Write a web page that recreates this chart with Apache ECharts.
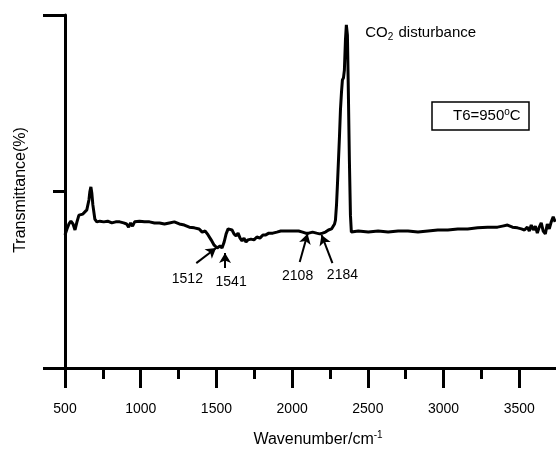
<!DOCTYPE html>
<html>
<head>
<meta charset="utf-8">
<script src="https://cdn.jsdelivr.net/npm/echarts@6/dist/echarts.min.js"></script>
<style>
html,body{margin:0;padding:0;background:#fff;overflow:hidden;width:556px;height:452px;}
#chart{width:598px;height:452px;}
</style>
</head>
<body>
<div id="chart"></div>
<script>
// Wavenumber (cm^-1)
var wavenumbers = [500,513,526,539,553,566,579,592,605,618,631,644,658,664,671,677,684,697,710,730,756,782,809,835,861,887,907,920,933,946,960,992,1025,1058,1091,1124,1157,1189,1222,1255,1288,1321,1354,1386,1406,1426,1445,1465,1485,1505,1524,1537,1551,1564,1577,1590,1603,1616,1630,1643,1656,1669,1682,1695,1708,1728,1748,1767,1787,1807,1826,1846,1872,1899,1925,1951,1977,2010,2043,2069,2089,2109,2135,2161,2181,2201,2220,2240,2260,2273,2280,2286,2293,2299,2306,2313,2319,2326,2332,2339,2345,2352,2358,2365,2371,2378,2385,2391,2404,2437,2503,2568,2634,2700,2765,2831,2897,2962,3028,3094,3159,3225,3291,3356,3389,3422,3455,3488,3514,3534,3553,3566,3579,3593,3606,3619,3632,3645,3658,3672,3685,3698,3711,3724,3737];
// Transmittance (arbitrary units, 0-100)
var transmittance = [37.7,39.4,40.8,41.6,40.8,39.1,41.4,43.3,43.1,43.6,43.9,44.8,47.6,49.9,51.3,49.6,46.2,42.2,41.4,41.6,41.4,41.6,41.1,41.4,41.4,41.1,40.8,39.9,41.1,40.2,41.4,41.6,41.4,41.4,41.1,41.1,40.8,41.1,41.4,40.8,40.5,39.9,39.7,39.4,38.5,38.8,37.7,36.3,34.8,34.0,34.6,34.0,35.7,38.0,39.4,39.7,39.1,38.0,37.4,38.2,36.8,36.0,36.8,35.7,36.3,36.5,36.3,37.1,36.8,37.7,37.7,38.2,38.2,38.5,38.8,38.8,38.8,38.8,38.8,38.5,38.2,38.2,38.5,38.2,38.0,38.2,38.5,39.1,39.4,39.9,40.8,41.9,46.2,51.8,58.9,66.0,73.1,78.2,81.6,82.2,84.4,92.9,97.2,94.3,78.8,58.9,43.3,38.5,38.5,38.8,38.5,38.8,38.5,38.8,38.8,38.5,38.8,39.1,39.1,39.4,39.4,39.7,39.9,39.9,40.2,40.5,39.9,39.7,39.4,39.1,39.9,38.8,40.5,39.1,40.2,38.2,39.9,41.1,38.8,38.0,40.8,39.4,41.4,42.8,41.4];
// X tick labels
var xTicks = [500,1000,1500,2000,2500,3000,3500];
// Peak annotations: label, label position [x,y], arrow start [x,y], arrow tip [x,y]
var peakLabels = ['1512','1541','2108','2184'];
var peakLabelPos = [[1308,25.2],[1597,24.4],[2036,26.1],[2332,26.3]];
var arrowStart = [[1367,29.7],[1557,28.3],[2050,30.0],[2266,29.7]];
var arrowTip = [[1498,34.0],[1557,32.6],[2102,38.0],[2194,37.7]];
var co2Pos = [2483,94.9];

var FONT = '"Liberation Sans", Arial, sans-serif';

var seriesData = wavenumbers.map(function(w,i){return [w, transmittance[i]];});
var arrowLines = arrowStart.map(function(s,i){return [{coord:s},{coord:arrowTip[i]}];});
var labelPoints = peakLabels.map(function(l,i){
  return {coord: peakLabelPos[i], value: l,
    label:{show:true, formatter:l, position:'inside', color:'#000', fontSize:14, fontFamily:FONT}};
});
labelPoints.push({coord: co2Pos, value:'co2',
  label:{show:true, position:'inside', align:'left', color:'#000', fontSize:15, fontFamily:FONT,
    formatter:'CO{sub|2} disturbance',
    rich:{sub:{fontSize:10, verticalAlign:'bottom', padding:[8,1,0,0], fontFamily:FONT, color:'#000'}}}});

var chart = echarts.init(document.getElementById('chart'), null, {renderer:'canvas'});
chart.setOption({
  animation:false,
  backgroundColor:'#fff',
  grid:{left:65, top:15, right:0, bottom:84, containLabel:false},
  xAxis:{
    type:'value', min:500, max:4000, interval:500,
    axisLine:{show:true, lineStyle:{color:'#000', width:3}},
    axisTick:{show:true, inside:false, length:20, lineStyle:{color:'#000', width:3}},
    minorTick:{show:true, splitNumber:2, length:11, lineStyle:{color:'#000', width:3}},
    axisLabel:{show:true, margin:34, color:'#000', fontSize:14, fontFamily:FONT,
      formatter:function(v){return xTicks.indexOf(v)>=0 ? String(v) : '';}},
    splitLine:{show:false}
  },
  yAxis:{
    type:'value', min:0, max:100, interval:100,
    axisLine:{show:true, lineStyle:{color:'#000', width:3}},
    axisTick:{show:true, length:22, lineStyle:{color:'#000', width:3}},
    minorTick:{show:true, splitNumber:2, length:12, lineStyle:{color:'#000', width:3}},
    axisLabel:{show:false},
    splitLine:{show:false}
  },
  graphic:[
    {type:'rect', shape:{x:432, y:102, width:97, height:28},
      style:{fill:'#fff', stroke:'#000', lineWidth:1.5}, z:100},
    {type:'text', x:453, y:116, z:101,
      style:{text:'T6=950{sup|o}C', fill:'#000', fontSize:15, fontFamily:FONT, verticalAlign:'middle',
        rich:{sup:{fontSize:10, verticalAlign:'top', padding:[0,0,8,0], fill:'#000', fontFamily:FONT}}}},
    {type:'text', x:318, y:440, z:101,
      style:{text:'Wavenumber/cm{sup|-1}', fill:'#000', fontSize:16, fontFamily:FONT, align:'center', verticalAlign:'middle',
        rich:{sup:{fontSize:10, padding:[0,0,10,0], fill:'#000', fontFamily:FONT}}}},
    {type:'text', x:21, y:190, rotation:Math.PI/2, z:101,
      style:{text:'Transmittance(%)', fill:'#000', fontSize:16, fontFamily:FONT, align:'center', verticalAlign:'middle'}}
  ],
  series:[{
    type:'line', data:seriesData, showSymbol:false, symbol:'none',
    lineStyle:{color:'#000', width:3}, smooth:false, clip:true,
    markLine:{silent:true, symbol:['none','arrow'], symbolSize:[9,10],
      lineStyle:{color:'#000', width:2, type:'solid'}, label:{show:false},
      data: arrowLines, animation:false},
    markPoint:{silent:true, symbol:'rect', symbolSize:1, itemStyle:{color:'rgba(0,0,0,0)'},
      data: labelPoints, animation:false}
  }]
});
</script>
</body>
</html>
